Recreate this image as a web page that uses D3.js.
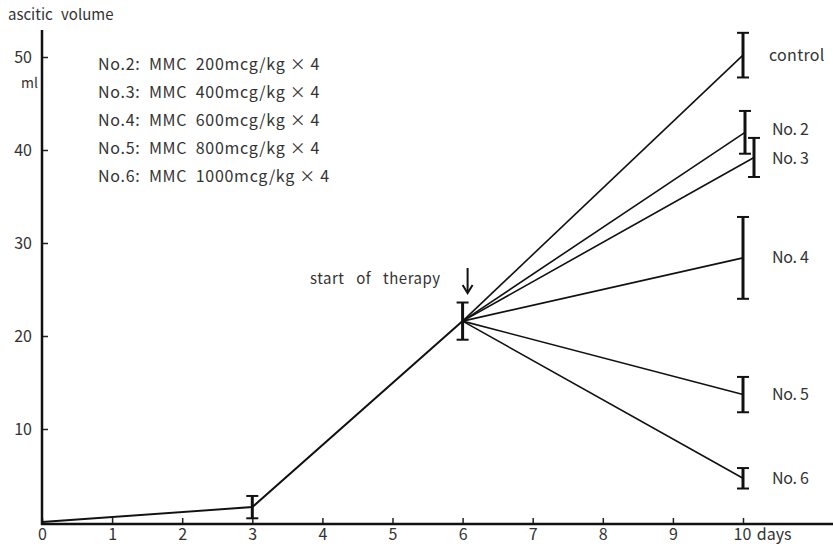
<!DOCTYPE html>
<html>
<head>
<meta charset="utf-8">
<script src="https://cdn.jsdelivr.net/npm/d3@7"></script>
<style>
  body { margin: 0; background: #fff; }
  text { font-family: "Noto Sans CJK JP", "Noto Sans", sans-serif; fill: #333; }
</style>
</head>
<body>
<div id="chart"></div>
<script>
// days on the x axis
const days = [0, 1, 2, 3, 4, 5, 6, 7, 8, 9, 10];
const yTicks = [10, 20, 30, 40, 50];

// common course before therapy (day, ml, sd)
const baseDays = [0, 3, 6];
const baseValues = [0, 1.6, 21.6];
const baseErrors = [0, 1.2, 2.0];

// branches at day 10
const groups = ['control', 'No. 2', 'No. 3', 'No. 4', 'No. 5', 'No. 6'];
const day10Values = [50.2, 41.9, 39.2, 28.4, 13.7, 4.7];
const day10Errors = [2.4, 2.3, 2.1, 4.4, 1.9, 1.1];

const legendLines = [
  'No.2:  MMC  200mcg/kg × 4',
  'No.3:  MMC  400mcg/kg × 4',
  'No.4:  MMC  600mcg/kg × 4',
  'No.5:  MMC  800mcg/kg × 4',
  'No.6:  MMC  1000mcg/kg × 4'
];

const WIDTH = 833;
const HEIGHT = 552;

const svg = d3.select('#chart')
  .append('svg')
  .attr('width', WIDTH)
  .attr('height', HEIGHT);

const x = d3.scaleLinear().domain([0, 10]).range([42, 743]);
const y = d3.scaleLinear().domain([0, 50]).range([522, 57]);

// axes: ticks point inward
const xAxis = svg.append('g')
  .attr('transform', 'translate(0,524)')
  .call(d3.axisBottom(x).tickValues(days).tickSize(-6).tickPadding(10)
    .tickFormat(d => d));
xAxis.select('.domain').remove();
xAxis.selectAll('line').attr('stroke', '#222').attr('stroke-width', 1.5);
xAxis.selectAll('text').style('font-size', '16px').attr('dy', '0.4em');
xAxis.selectAll('.tick').filter(d => d === 10).select('text')
  .attr('text-anchor', 'start').attr('dx', '-10').style('word-spacing', '2px')
  .text('10 days');

const yAxis = svg.append('g')
  .attr('transform', 'translate(42,0)')
  .call(d3.axisLeft(y).tickValues(yTicks).tickSize(-6).tickPadding(10));
yAxis.select('.domain').remove();
yAxis.selectAll('line').attr('stroke', '#222').attr('stroke-width', 1.5);
yAxis.selectAll('text').style('font-size', '16px');

// axis lines
svg.append('line')
  .attr('x1', 42).attr('x2', 42).attr('y1', 30).attr('y2', 525)
  .attr('stroke', '#111').attr('stroke-width', 2.5);
svg.append('line')
  .attr('x1', 41).attr('x2', WIDTH).attr('y1', 524).attr('y2', 524)
  .attr('stroke', '#111').attr('stroke-width', 2.5);

svg.append('text').attr('x', 8).attr('y', 20)
  .style('font-size', '15px').style('word-spacing', '5px')
  .text('ascitic volume');
svg.append('text').attr('x', 21).attr('y', 88)
  .style('font-size', '14px').text('ml');

// line before therapy
const line = d3.line().x(d => x(d[0])).y(d => y(d[1]));
svg.append('path')
  .datum(baseDays.map((d, i) => [d, baseValues[i]]))
  .attr('fill', 'none').attr('stroke', '#111').attr('stroke-width', 2)
  .attr('d', line);

// small horizontal nudge so that overlapping error bars stay apart
const nudge = { 'No. 3': 11, 'No. 2': 2 };

groups.forEach((g, i) => {
  const dx = nudge[g] || 0;
  svg.append('path')
    .datum([[6, baseValues[2]], [10, day10Values[i]]])
    .attr('fill', 'none').attr('stroke', '#111').attr('stroke-width', 1.6)
    .attr('d', d3.line().x((d, k) => x(d[0]) + (k ? dx : 0)).y(d => y(d[1])));
});

function errorBar(cx, v, e) {
  const gb = svg.append('g').attr('stroke', '#111');
  gb.append('line').attr('x1', cx).attr('x2', cx)
    .attr('y1', y(v + e)).attr('y2', y(v - e)).attr('stroke-width', 3);
  [v + e, v - e].forEach(t => {
    gb.append('line').attr('x1', cx - 6).attr('x2', cx + 6)
      .attr('y1', y(t)).attr('y2', y(t)).attr('stroke-width', 2);
  });
}

baseDays.forEach((d, i) => {
  if (baseErrors[i] > 0) errorBar(x(d), baseValues[i], baseErrors[i]);
});
groups.forEach((g, i) => {
  errorBar(x(10) + (nudge[g] || 0), day10Values[i], day10Errors[i]);
});

// group labels at day 10
const labelY = { 'control': 55, 'No. 3': 158 };
groups.forEach((g, i) => {
  svg.append('text')
    .attr('x', g === 'control' ? 769 : 772)
    .attr('y', labelY[g] !== undefined ? labelY[g] : y(day10Values[i]) + (g === 'No. 2' ? -3 : 0))
    .attr('dy', '0.35em')
    .style('font-size', '16px')
    .style('letter-spacing', g === 'control' ? '0.3px' : '-0.3px')
    .text(g);
});

// legend
svg.append('g').selectAll('text')
  .data(legendLines)
  .join('text')
  .attr('x', 98)
  .attr('y', (d, i) => 64 + i * 28.2)
  .attr('dy', '0.35em')
  .style('font-size', '16px')
  .style('letter-spacing', '0.7px')
  .style('white-space', 'pre')
  .text(d => d);

// therapy marker
svg.append('text').attr('x', 310).attr('y', 279).attr('dy', '0.35em')
  .style('font-size', '15px').style('word-spacing', '8px').style('letter-spacing', '0.5px')
  .text('start of therapy');
svg.append('line').attr('x1', x(6) + 5).attr('x2', x(6) + 5)
  .attr('y1', 268).attr('y2', 292)
  .attr('stroke', '#111').attr('stroke-width', 2);
svg.append('path')
  .attr('d', `M${x(6) + 5 - 5},${285} L${x(6) + 5},${293} L${x(6) + 5 + 5},${285}`)
  .attr('fill', 'none').attr('stroke', '#111').attr('stroke-width', 2);
</script>
</body>
</html>
